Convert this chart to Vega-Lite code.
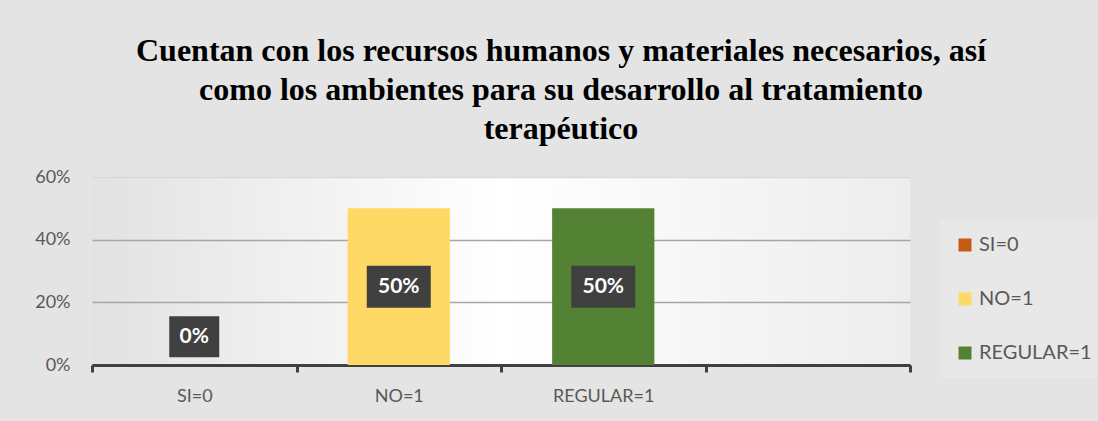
{
  "$schema": "https://vega.github.io/schema/vega-lite/v6.json",
  "width": 818,
  "height": 188,
  "autosize": {"type": "none"},
  "padding": {"left": 92, "top": 177, "right": 188, "bottom": 56},
  "background": "#e4e4e4",
  "title": {
    "text": ["Cuentan con los recursos humanos y materiales necesarios, así", "como los ambientes para su desarrollo al tratamiento", "terapéutico"],
    "font": "Liberation Serif",
    "fontSize": 32,
    "fontWeight": "bold",
    "color": "#000000",
    "lineHeight": 39,
    "anchor": "middle",
    "frame": "group",
    "dx": 60,
    "offset": 22
  },
  "config": {
    "view": {"stroke": null, "fill": {"gradient": "linear", "x1": 0, "y1": 0, "x2": 1, "y2": 0, "stops": [{"offset": 0, "color": "#e2e2e2"}, {"offset": 0.5, "color": "#ffffff"}, {"offset": 1, "color": "#ededed"}]}},
    "font": "Lato"
  },
  "data": {
    "values": [
      {"cat": "SI=0", "value": 0},
      {"cat": "NO=1", "value": 0.5},
      {"cat": "REGULAR=1", "value": 0.5}
    ]
  },
  "transform": [
    {"calculate": "datum.value === 0 ? 0.09 : datum.value / 2", "as": "mid"}
  ],
  "encoding": {
    "x": {
      "field": "cat",
      "type": "nominal",
      "sort": null,
      "scale": {"domain": ["SI=0", "NO=1", "REGULAR=1", " "], "paddingInner": 0, "paddingOuter": 0},
      "axis": {
        "title": null,
        "labelAngle": 0,
        "labelFont": "Lato",
        "labelFontSize": 18,
        "labelColor": "#595959",
        "labelPadding": 15,
        "domainColor": "#404040",
        "domainWidth": 3,
        "ticks": true,
        "tickBand": "extent",
        "tickColor": "#404040",
        "tickWidth": 3,
        "tickSize": 7,
        "grid": false
      }
    }
  },
  "layer": [
    {
      "mark": {"type": "bar", "width": {"band": 0.5}},
      "encoding": {
        "y": {
          "field": "value",
          "type": "quantitative",
          "scale": {"domain": [0, 0.6]},
          "axis": {
            "title": null,
            "values": [0, 0.2, 0.4, 0.6],
            "format": ".0%",
            "domain": false,
            "ticks": false,
            "grid": true,
            "gridColor": {"condition": {"test": "datum.value >= 0.6", "value": "#d9d9d9"}, "value": "#a6a6a6"},
            "gridWidth": 1.5,
            "labelFont": "Lato",
            "labelFontSize": 18,
            "labelColor": "#595959",
            "labelPadding": 22
          }
        },
        "color": {
          "field": "cat",
          "type": "nominal",
          "scale": {"domain": ["SI=0", "NO=1", "REGULAR=1"], "range": ["#c55a11", "#ffd966", "#548235"]},
          "legend": {
            "title": null,
            "orient": "none",
            "legendX": 848,
            "legendY": 43,
            "fillColor": "#e8e8e8",
            "padding": 15,
            "symbolType": "square",
            "symbolSize": 169,
            "symbolStrokeWidth": 0,
            "rowPadding": 34,
            "labelFont": "Lato",
            "labelFontSize": 20,
            "labelColor": "#595959",
            "labelOffset": 4
          }
        }
      }
    },
    {
      "mark": {"type": "point", "filled": true, "color": "#404040", "opacity": 1},
      "encoding": {
        "y": {"field": "mid", "type": "quantitative"},
        "shape": {"condition": {"test": "datum.value === 0", "value": "M-1,-0.82L1,-0.82L1,0.82L-1,0.82Z"}, "value": "M-1,-0.656L1,-0.656L1,0.656L-1,0.656Z"},
        "size": {"condition": {"test": "datum.value === 0", "value": 2500}, "value": 4096}
      }
    },
    {
      "mark": {"type": "text", "color": "#ffffff", "fontWeight": "bold", "fontSize": 21, "font": "Lato", "baseline": "middle"},
      "encoding": {
        "y": {"field": "mid", "type": "quantitative"},
        "text": {"field": "value", "type": "quantitative", "format": ".0%"}
      }
    }
  ]
}
